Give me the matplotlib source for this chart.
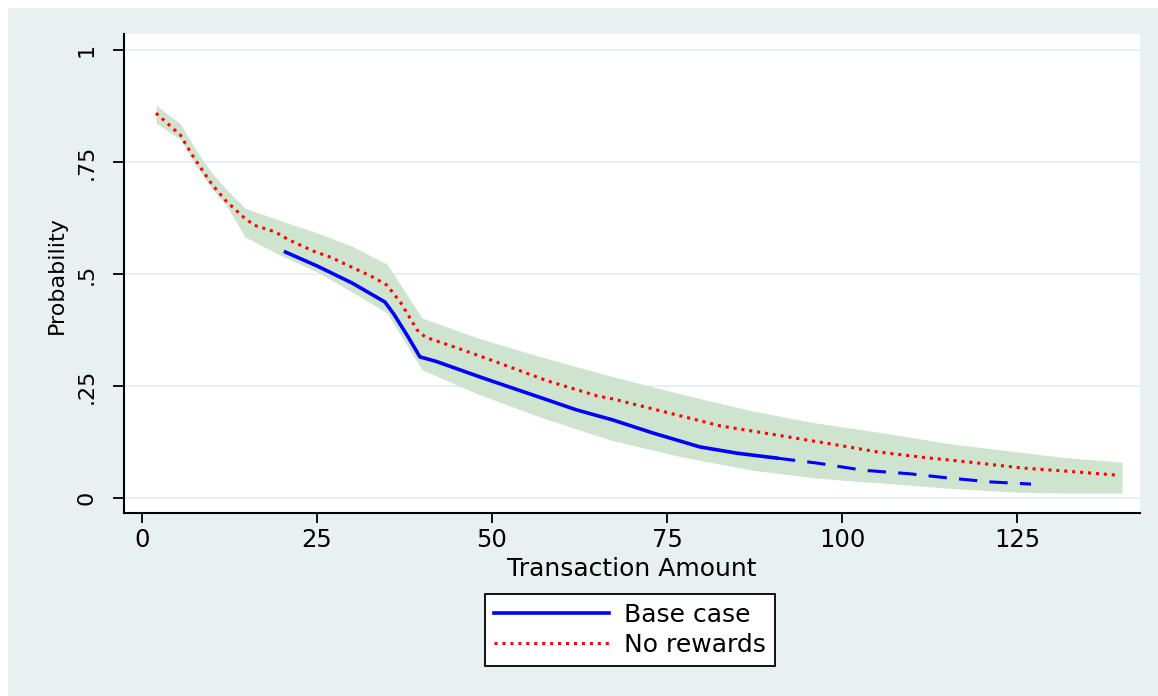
import matplotlib
matplotlib.use("Agg")
import matplotlib.pyplot as plt
from matplotlib.patches import Rectangle

# No rewards curve (red dotted)
amount_nr = [2, 5.5, 7, 8, 10, 12, 14.5, 16, 19, 21, 24.5, 27, 33, 35, 37, 39.3,
             40.5, 45, 49.5, 58, 65, 67.3, 73.7, 82.6, 89.7, 98.3, 105, 112,
             118.3, 125.7, 132, 139.3]
prob_nr = [0.859, 0.81, 0.77, 0.746, 0.70, 0.663, 0.627, 0.609, 0.594, 0.576,
           0.551, 0.537, 0.493, 0.475, 0.435, 0.375, 0.359, 0.335, 0.31, 0.261,
           0.228, 0.221, 0.196, 0.161, 0.143, 0.121, 0.103, 0.09, 0.08, 0.067,
           0.06, 0.051]

# Base case curve (blue), solid part then dashed tail
amount_base = [20.5, 25, 30, 34.7, 36, 38, 39.7, 42, 48.5, 53, 57.9, 62, 67.3,
               73, 79.7, 85, 90.7]
prob_base = [0.549, 0.518, 0.48, 0.4375, 0.41, 0.36, 0.315, 0.305, 0.269, 0.245,
             0.219, 0.197, 0.174, 0.145, 0.114, 0.10, 0.089]
amount_base_tail = [90.7, 96.4, 103, 109.7, 115, 121.1, 127]
prob_base_tail = [0.089, 0.078, 0.062, 0.054, 0.045, 0.036, 0.031]

# confidence band (union of both intervals)
band_x = [2, 5.5, 8, 10, 12, 14.7, 20, 25, 30, 35, 40, 48, 57, 67, 77, 87, 96,
          103, 106, 115, 125, 132, 140]
band_hi = [0.877, 0.835, 0.77, 0.725, 0.69, 0.647, 0.618, 0.592, 0.562, 0.522,
           0.402, 0.357, 0.315, 0.272, 0.232, 0.195, 0.168, 0.152, 0.145,
           0.122, 0.103, 0.09, 0.080]
band_lo = [0.837, 0.80, 0.735, 0.69, 0.655, 0.583, 0.54, 0.505, 0.46, 0.413,
           0.286, 0.232, 0.18, 0.129, 0.092, 0.0625, 0.045, 0.036, 0.033,
           0.022, 0.013, 0.011, 0.011]

y_ticks = [0, 0.25, 0.5, 0.75, 1]
y_ticklabels = ["0", ".25", ".5", ".75", "1"]
x_ticks = [0, 25, 50, 75, 100, 125]

W, H = 1158, 696
fig = plt.figure(figsize=(W / 100, H / 100), dpi=100, facecolor="white")
fig.patches.append(Rectangle((8 / W, 0), 1 - 8 / W, 1 - 8 / H, transform=fig.transFigure,
                             facecolor="#e8f0f2", edgecolor="none", zorder=-10))

ax = fig.add_axes([124 / W, 1 - 513 / H, (1140 - 124) / W, (513 - 34) / H])
ax.set_facecolor("white")

ax.fill_between(band_x, band_lo, band_hi, color="#cfe4cf", linewidth=0, zorder=2)
ax.plot(amount_base, prob_base, color="#0000ff", lw=2.6, zorder=3, label="Base case")
ax.plot(amount_base_tail, prob_base_tail, color="#0000ff", lw=2.2,
        linestyle=(0, (6, 4)), zorder=3)
ax.plot(amount_nr, prob_nr, color="#ff0000", lw=2.2, linestyle=(0, (1, 1.6)),
        zorder=4, label="No rewards")

ax.set_xlim(-2.57, 142.57)
ax.set_ylim(-0.0335, 1.0357)

ax.set_yticks(y_ticks)
ax.set_yticklabels(y_ticklabels, rotation=90, va="center", fontsize=16)
ax.set_xticks(x_ticks)
ax.set_xticklabels([str(t) for t in x_ticks], fontsize=17.5)
ax.tick_params(axis="y", length=8, width=1.3, pad=12)
ax.tick_params(axis="x", length=7, width=1.3, pad=3.6)
ax.yaxis.grid(True, color="#e6eef2", lw=1.3, zorder=1)
ax.set_axisbelow(True)

for side in ["top", "right"]:
    ax.spines[side].set_visible(False)
for side in ["left", "bottom"]:
    ax.spines[side].set_linewidth(1.5)

ax.set_xlabel("Transaction Amount", fontsize=18)
ax.xaxis.set_label_coords(0.5, -0.092)
ax.set_ylabel("Probability", fontsize=16)
ax.yaxis.set_label_coords(-0.056, 0.497)

leg = fig.legend(loc="center", bbox_to_anchor=(630 / W, 1 - 630 / H), fontsize=18,
                 handlelength=4.6, labelspacing=0.25, borderpad=0.35,
                 handletextpad=0.6, fancybox=False, framealpha=1,
                 edgecolor="black")
leg.get_frame().set_linewidth(1.3)

fig.savefig("out.png", dpi=100, facecolor=fig.get_facecolor())
